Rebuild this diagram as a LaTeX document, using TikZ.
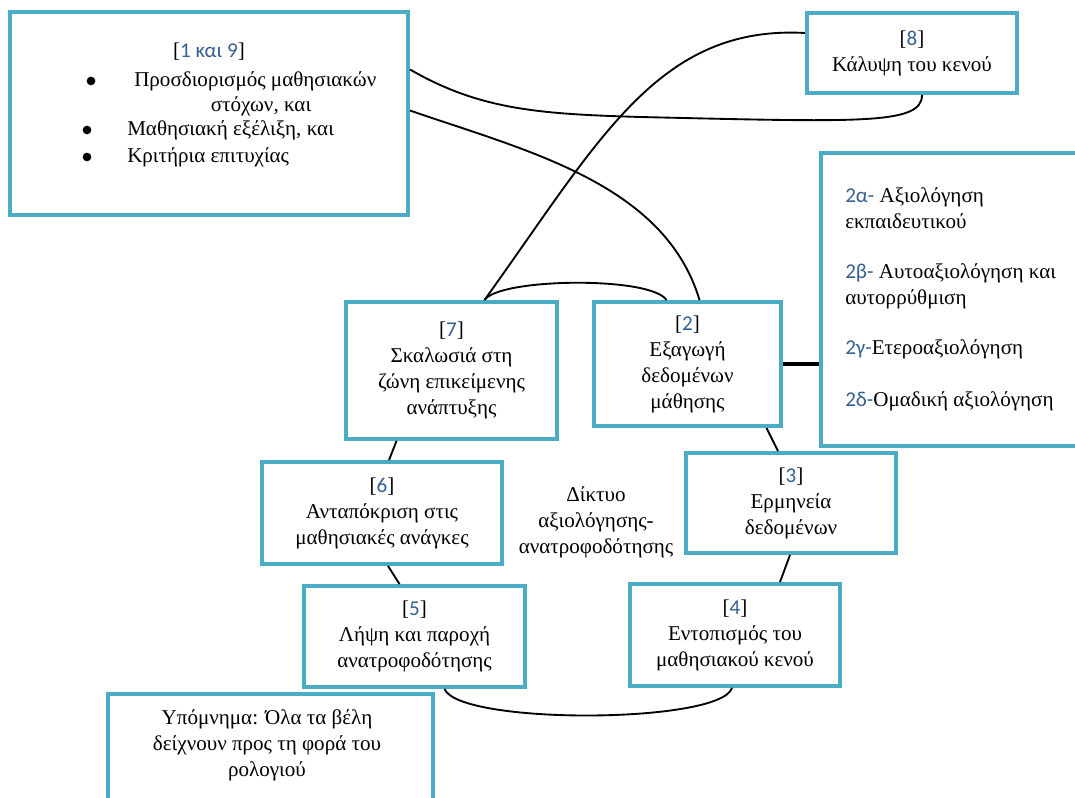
\documentclass[tikz,border=0pt]{standalone}
\usepackage{fontspec}
\setmainfont{Liberation Serif}
\newfontfamily\numfont{Carlito}
\usetikzlibrary{calc}
\definecolor{boxblue}{RGB}{75,172,198}
\definecolor{numblue}{RGB}{54,95,145}
\newcommand{\stepnr}[1]{[\textcolor{numblue}{\numfont #1}]}
\newcommand{\subnr}[1]{\textcolor{numblue}{\numfont #1}}
\tikzset{
  box/.style={draw=boxblue, line width=3pt, fill=white, align=center, inner sep=0pt},
  txt/.style={inner sep=0pt, align=center},
  dot/.style={circle, fill=black, inner sep=0pt, minimum size=6.5pt},
  link/.style={line width=1.4pt, black},
}

\begin{document}
\begin{tikzpicture}[x=0.75pt,y=-0.75pt,font=\fontsize{15.8}{19.5}\selectfont]
\useasboundingbox (0,0) rectangle (1075,798);

\node[box, minimum width=298.5pt, minimum height=152.25pt] (b19) at (209,113.5) {};
\node[txt] (t19) at (209,52) {\stepnr{1 και 9}};
\node[dot] (d1) at (91,81) {};
\node[txt, anchor=west] (l1) at (134,81) {Προσδιορισμός μαθησιακών};
\node[txt] (l1b) at (261,106) {στόχων, και};
\node[dot] (d2) at (87,130) {};
\node[txt, anchor=west] (l2) at (127,130) {Μαθησιακή εξέλιξη, και};
\node[dot] (d3) at (87,157) {};
\node[txt, anchor=west] (l3) at (127,157) {Κριτήρια επιτυχίας};

\node[box, minimum width=157.5pt, minimum height=60pt] (b8) at (912,53) {\stepnr{8}\\ Κάλυψη του κενού};

\node[box, minimum width=198pt, minimum height=219.75pt] (b2x) at (953,299.5) {};
\node[txt, anchor=north west, align=left] (t2x) at (845,187) {%
  \subnr{2α-} Αξιολόγηση\\ εκπαιδευτικού\\[18pt]
  \subnr{2β-} Αυτοαξιολόγηση και\\ αυτορρύθμιση\\[18pt]
  \subnr{2γ-}Ετεροαξιολόγηση\\[20pt]
  \subnr{2δ-}Ομαδική αξιολόγηση};

\node[box, minimum width=158.25pt, minimum height=102.75pt] (b7) at (451.5,370.5) {\stepnr{7}\\ Σκαλωσιά στη\\ ζώνη επικείμενης\\ ανάπτυξης};
\node[box, minimum width=140.25pt, minimum height=93pt] (b2) at (687.5,364) {\stepnr{2}\\ Εξαγωγή\\ δεδομένων\\ μάθησης};
\node[box, minimum width=157.5pt, minimum height=75pt] (b3) at (791,503) {\stepnr{3}\\ Ερμηνεία\\ δεδομένων};
\node[box, minimum width=180pt, minimum height=76.5pt] (b6) at (382,513) {\stepnr{6}\\ Ανταπόκριση στις\\ μαθησιακές ανάγκες};
\node[box, minimum width=165.75pt, minimum height=75.75pt] (b5) at (414.5,636.5) {\stepnr{5}\\ Λήψη και παροχή\\ ανατροφοδότησης};
\node[box, minimum width=157.5pt, minimum height=76.5pt] (b4) at (735,635) {\stepnr{4}\\ Εντοπισμός του\\ μαθησιακού κενού};

\node[txt] (net) at (596,522) {Δίκτυο\\ αξιολόγησης-\\ ανατροφοδότησης};

\node[box, minimum width=243.75pt, minimum height=94.5pt] (leg) at (270.5,757) {};
\node[txt] (tleg) at (267,745) {Υπόμνημα: Όλα τα βέλη\\ δείχνουν προς τη φορά του\\ ρολογιού};

\draw[link] ($(b19.east)+(0,-44)$) .. controls (480,110) and (540,114) .. (640,117)
  .. controls (860,122) and (922,125) .. ($(b8.south)+(10,0)$);
\draw[link] ($(b19.east)+(0,-3)$) .. controls +(115,40) and +(-35,-117) .. ($(b2.north)+(12,0)$);
\draw[link] ($(b7.north)+(33,0)$) .. controls +(115,-160) and +(-147,-8) .. ($(b8.west)+(0,-20)$);
\draw[link] ($(b7.north)+(33,0)$) .. controls +(15,-22) and +(-16,-24) .. ($(b2.north)+(-21,0)$);
\draw[link] ($(b2.south)+(79,0)$) -- ($(b3.north)+(-13,0)$);
\draw[link] ($(b3.south)+(-1,0)$) -- ($(b4.north)+(45,0)$);
\draw[link] ($(b4.south)+(-3,0)$) .. controls +(-12,36) and +(15,36) .. ($(b5.south)+(30,0)$);
\draw[link] ($(b5.north)+(-15,0)$) -- ($(b6.south)+(6,0)$);
\draw[link] ($(b6.north)+(7,0)$) -- ($(b7.south)+(-55,0)$);
\draw[line width=3.5pt] (b2.east) -- (b2.east -| b2x.west);

\end{tikzpicture}
\end{document}
